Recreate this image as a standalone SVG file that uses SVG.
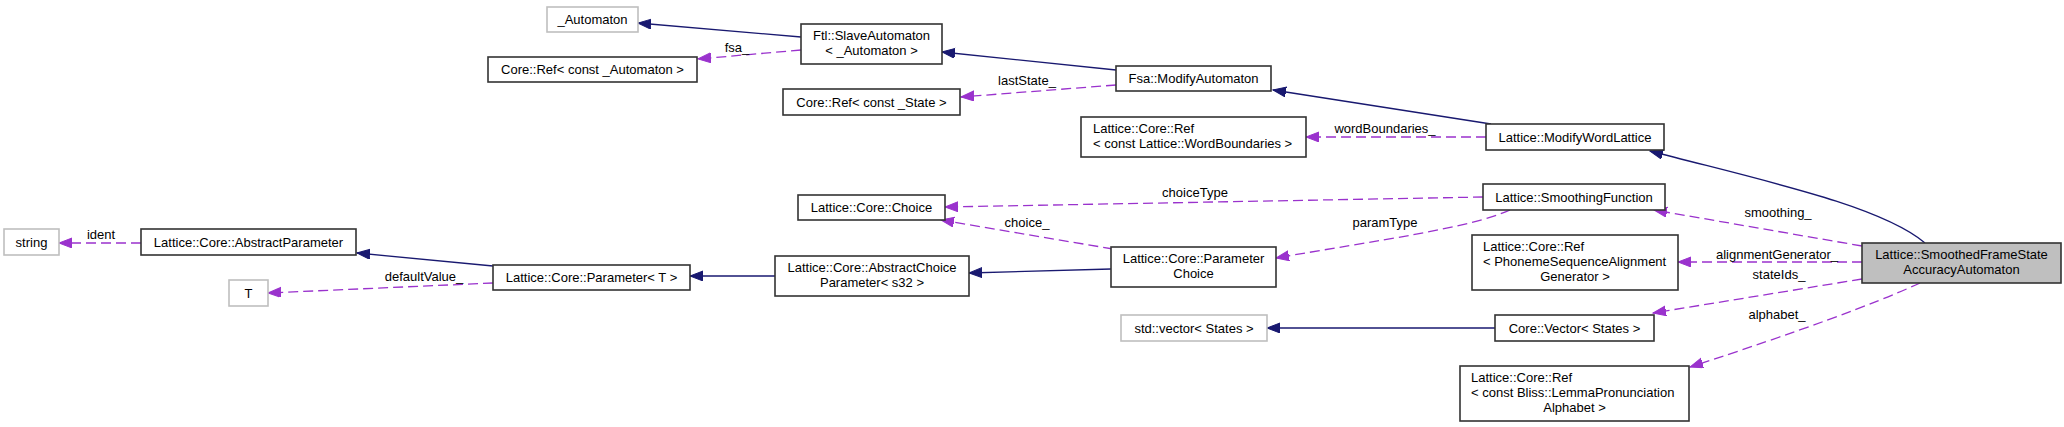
<svg xmlns="http://www.w3.org/2000/svg" width="2064" height="427" viewBox="0 0 2064 427">
<style>
.n{fill:#ffffff;stroke:#333333;stroke-width:1.6}
.g{fill:#ffffff;stroke:#bfbfbf;stroke-width:1.6}
.h{fill:#bfbfbf;stroke:#333333;stroke-width:1.6}
text{font-family:"Liberation Sans",Arial,sans-serif;font-size:13px;fill:#000000}
.c{text-anchor:middle}
.inh{fill:none;stroke:#191970;stroke-width:1.3}
.use{fill:none;stroke:#9a32cd;stroke-width:1.3;stroke-dasharray:10,5}
</style>
<defs>
<marker id="ab" markerUnits="userSpaceOnUse" markerWidth="15" markerHeight="12" refX="13" refY="5" orient="auto"><path d="M0,0 L13,5 L0,10 z" fill="#191970" stroke="#191970"/></marker>
<marker id="ap" markerUnits="userSpaceOnUse" markerWidth="15" markerHeight="12" refX="13" refY="5" orient="auto"><path d="M0,0 L13,5 L0,10 z" fill="#9a32cd" stroke="#9a32cd"/></marker>
</defs>
<g id="edges">
<path class="inh" d="M801,37 L638,23" marker-end="url(#ab)"/>
<path class="inh" d="M1116,70 L942,52" marker-end="url(#ab)"/>
<path class="inh" d="M1491,124 L1273,90" marker-end="url(#ab)"/>
<path class="inh" d="M1925,243 C1880,205 1760,180 1650,151" marker-end="url(#ab)"/>
<path class="inh" d="M493,266 L357,253" marker-end="url(#ab)"/>
<path class="inh" d="M775,276 L690,276" marker-end="url(#ab)"/>
<path class="inh" d="M1111,269 L969,273" marker-end="url(#ab)"/>
<path class="inh" d="M1495,328 L1267,328" marker-end="url(#ab)"/>
<path class="use" d="M801,50 L698,59" marker-end="url(#ap)"/>
<text class="c" x="737" y="52">fsa_</text>
<path class="use" d="M1116,85 L961,97" marker-end="url(#ap)"/>
<text class="c" x="1027" y="85">lastState_</text>
<path class="use" d="M1486,137 L1306,137" marker-end="url(#ap)"/>
<text class="c" x="1385" y="133">wordBoundaries_</text>
<path class="use" d="M1483,197 L945,207" marker-end="url(#ap)"/>
<text class="c" x="1195" y="197">choiceType</text>
<path class="use" d="M1510,210 C1470,228 1380,240 1276,258" marker-end="url(#ap)"/>
<text class="c" x="1385" y="227">paramType</text>
<path class="use" d="M1113,249 L941,220" marker-end="url(#ap)"/>
<text class="c" x="1027" y="227">choice_</text>
<path class="use" d="M1862,246 L1654,210" marker-end="url(#ap)"/>
<text class="c" x="1778" y="217">smoothing_</text>
<path class="use" d="M1862,262 L1678,262" marker-end="url(#ap)"/>
<text class="c" x="1777" y="259">alignmentGenerator_</text>
<path class="use" d="M1862,279 L1653,313" marker-end="url(#ap)"/>
<text class="c" x="1779" y="279">stateIds_</text>
<path class="use" d="M1920,283 Q1850,315 1690,367" marker-end="url(#ap)"/>
<text class="c" x="1777" y="319">alphabet_</text>
<path class="use" d="M141,243 L59,243" marker-end="url(#ap)"/>
<text class="c" x="101" y="239">ident</text>
<path class="use" d="M493,283 L268,293" marker-end="url(#ap)"/>
<text class="c" x="424" y="281">defaultValue_</text>
</g>
<g id="n_automaton"><rect class="g" x="547" y="7" width="91" height="25"/><text class="c" x="592.5" y="24">_Automaton</text></g>
<g id="n_ref_automaton"><rect class="n" x="488" y="57" width="209" height="25"/><text class="c" x="592.5" y="74">Core::Ref&lt; const _Automaton &gt;</text></g>
<g id="n_slave"><rect class="n" x="801" y="24" width="141" height="40"/><text class="c" x="871.5" y="40">Ftl::SlaveAutomaton</text><text class="c" x="871.5" y="55">&lt; _Automaton &gt;</text></g>
<g id="n_ref_state"><rect class="n" x="783" y="89" width="177" height="26"/><text class="c" x="871.5" y="106.5">Core::Ref&lt; const _State &gt;</text></g>
<g id="n_modify_automaton"><rect class="n" x="1116" y="66" width="155" height="25"/><text class="c" x="1193.5" y="83">Fsa::ModifyAutomaton</text></g>
<g id="n_ref_wb"><rect class="n" x="1081" y="117" width="225" height="40"/><text x="1093" y="133">Lattice::Core::Ref</text><text x="1093" y="148">&lt; const Lattice::WordBoundaries &gt;</text></g>
<g id="n_modify_wl"><rect class="n" x="1486" y="124" width="178" height="26"/><text class="c" x="1575" y="141.5">Lattice::ModifyWordLattice</text></g>
<g id="n_smoothing"><rect class="n" x="1483" y="184" width="182" height="26"/><text class="c" x="1574" y="201.5">Lattice::SmoothingFunction</text></g>
<g id="n_choice"><rect class="n" x="798" y="195" width="147" height="25"/><text class="c" x="871.5" y="212">Lattice::Core::Choice</text></g>
<g id="n_string"><rect class="g" x="4" y="229" width="55" height="26"/><text class="c" x="31.5" y="246.5">string</text></g>
<g id="n_abs_param"><rect class="n" x="141" y="229" width="215" height="26"/><text class="c" x="248.5" y="246.5">Lattice::Core::AbstractParameter</text></g>
<g id="n_T"><rect class="g" x="229" y="280" width="39" height="26"/><text class="c" x="248.5" y="297.5">T</text></g>
<g id="n_param_t"><rect class="n" x="493" y="265" width="197" height="25"/><text class="c" x="591.5" y="282">Lattice::Core::Parameter&lt; T &gt;</text></g>
<g id="n_abs_choice"><rect class="n" x="775" y="256" width="194" height="40"/><text class="c" x="872" y="272">Lattice::Core::AbstractChoice</text><text class="c" x="872" y="287">Parameter&lt; s32 &gt;</text></g>
<g id="n_param_choice"><rect class="n" x="1111" y="247" width="165" height="40"/><text class="c" x="1193.5" y="263">Lattice::Core::Parameter</text><text class="c" x="1193.5" y="278">Choice</text></g>
<g id="n_ref_phoneme"><rect class="n" x="1472" y="235" width="206" height="55"/><text x="1483" y="251">Lattice::Core::Ref</text><text x="1483" y="266">&lt; PhonemeSequenceAlignment</text><text class="c" x="1575" y="281">Generator &gt;</text></g>
<g id="n_smoothed"><rect class="h" x="1862" y="243" width="199" height="40"/><text class="c" x="1961.5" y="259">Lattice::SmoothedFrameState</text><text class="c" x="1961.5" y="274">AccuracyAutomaton</text></g>
<g id="n_std_vector"><rect class="g" x="1121" y="315" width="146" height="26"/><text class="c" x="1194" y="332.5">std::vector&lt; States &gt;</text></g>
<g id="n_core_vector"><rect class="n" x="1495" y="315" width="159" height="26"/><text class="c" x="1574.5" y="332.5">Core::Vector&lt; States &gt;</text></g>
<g id="n_ref_bliss"><rect class="n" x="1460" y="366" width="229" height="55"/><text x="1471" y="382">Lattice::Core::Ref</text><text x="1471" y="397">&lt; const Bliss::LemmaPronunciation</text><text class="c" x="1574.5" y="412">Alphabet &gt;</text></g>
</svg>
